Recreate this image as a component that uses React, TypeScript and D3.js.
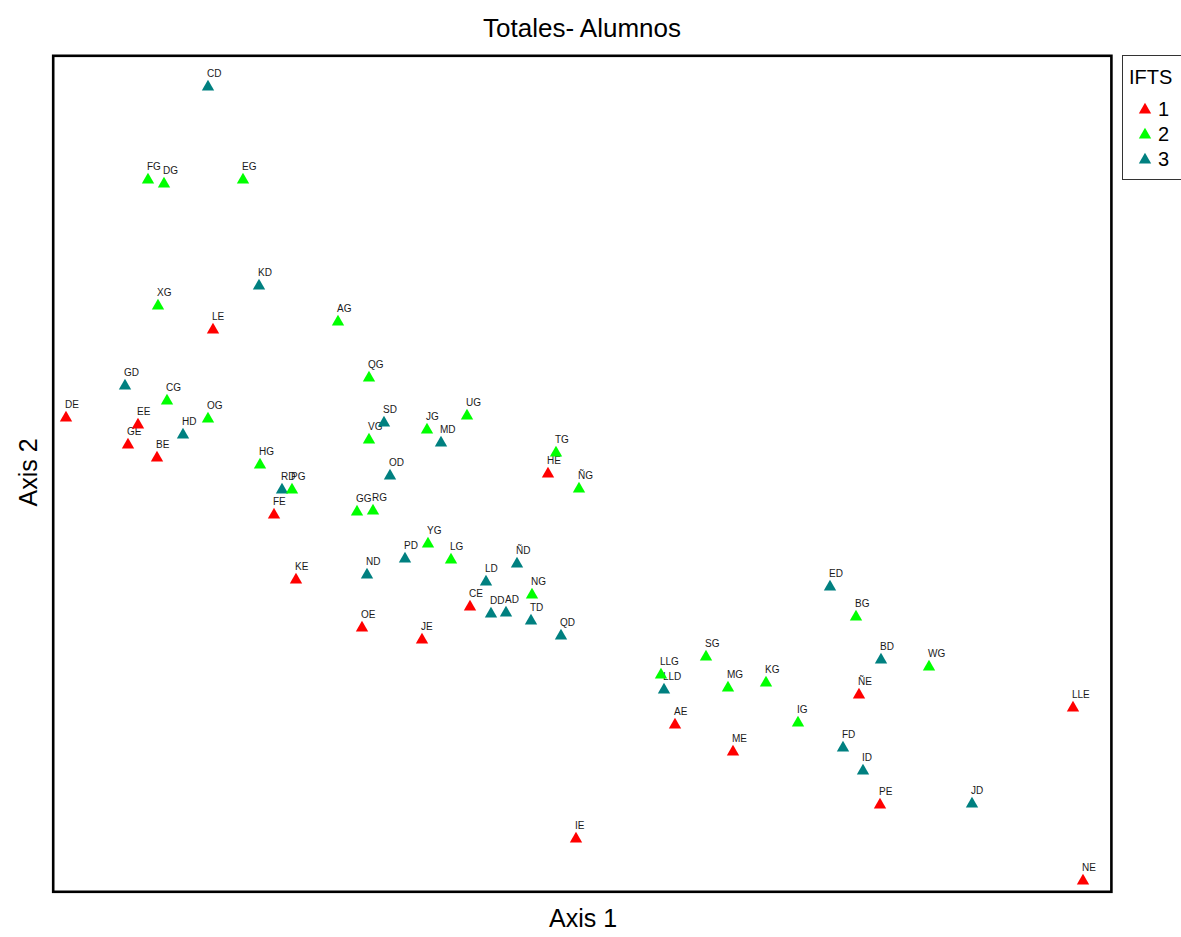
import React from "react";
import * as d3 from "d3";

// Ordination scores (Axis 1, Axis 2) for each student group, coloured by IFTS
const names = [
  "CD", "FG", "DG", "EG", "KD", "XG", "LE", "AG", "QG", "GD", "CG", "DE", "OG", "EE", "SD", "HD",
  "GE", "VG", "JG", "UG", "MD", "BE", "TG", "HG", "HE", "OD", "ÑG", "RD", "PG", "FE", "GG", "RG",
  "YG", "PD", "LG", "ÑD", "ND", "KE", "LD", "NG", "CE", "DD", "AD", "TD", "QD", "OE", "JE", "ED",
  "BG", "SG", "BD", "WG", "LLG", "LLD", "MG", "KG", "ÑE", "LLE", "AE", "IG", "ME", "FD", "ID", "PE",
  "JD", "IE", "NE",
];
const ifts = [
  3, 2, 2, 2, 3, 2, 1, 2, 2, 3, 2, 1, 2, 1, 3, 3,
  1, 2, 2, 2, 3, 1, 2, 2, 1, 3, 2, 3, 2, 1, 2, 2,
  2, 3, 2, 3, 3, 1, 3, 2, 1, 3, 3, 3, 3, 1, 1, 3,
  2, 2, 3, 2, 2, 3, 2, 2, 1, 1, 1, 2, 1, 3, 3, 1,
  3, 1, 1,
];
const axis1 = [
  156, 96, 112, 191, 207, 106, 161, 286, 317, 73, 115, 14, 156, 86, 332, 131,
  76, 317, 375, 415, 389, 105, 504, 208, 496, 338, 527, 230, 240, 222, 305, 321,
  376, 353, 399, 465, 315, 244, 434, 480, 418, 439, 454, 479, 509, 310, 370, 778,
  804, 654, 829, 877, 609, 612, 676, 714, 807, 1021, 623, 746, 681, 791, 811, 828,
  920, 524, 1031,
];
const axis2 = [
  803, 710, 706, 710, 604, 584, 560, 568, 512, 504, 489, 472, 471, 465, 467, 455,
  445, 450, 460, 474, 447, 432, 437, 425, 416, 414, 401, 400, 400, 375, 378, 379,
  346, 331, 330, 326, 315, 310, 308, 295, 283, 276, 277, 269, 254, 262, 250, 303,
  273, 233, 230, 223, 215, 200, 202, 207, 195, 182, 165, 167, 138, 142, 119, 85,
  86, 51, 9,
];
const groups = [1, 2, 3];
const groupColors = ["#ff0000", "#00ff00", "#008080"];

const W = 1181;
const H = 937;
const left = 52;
const right = 1112;
const top = 55;
const bottom = 890;

export default function App() {
  const x = d3.scaleLinear().domain([0, 1060]).range([left, right]);
  const y = d3.scaleLinear().domain([0, 835]).range([bottom, top]);
  const color = d3.scaleOrdinal<number, string>().domain(groups).range(groupColors);
  const tri = d3.symbol().type(d3.symbolTriangle).size(66)() as string;
  const font = "'Liberation Sans', Arial, sans-serif";

  const points = names.map((n, i) => ({ name: n, g: ifts[i], px: x(axis1[i]), py: y(axis2[i]) }));

  return (
    <svg
      width={W}
      height={H}
      style={{ position: "absolute", left: 0, top: 0, background: "#fff" }}
      fontFamily={font}
    >
      <rect x={0} y={0} width={W} height={H} fill="#fff" />
      <text x={582} y={37} textAnchor="middle" fontSize={26} fill="#000">
        Totales- Alumnos
      </text>

      {/* point labels sit underneath the markers */}
      {points.map((p) => (
        <text key={"l" + p.name} x={p.px - 1} y={p.py - 10.5} fontSize={10} fill="#1a1a1a">
          {p.name}
        </text>
      ))}
      {points.map((p) => (
        <path
          key={p.name}
          d={tri}
          transform={`translate(${p.px},${p.py})`}
          fill={color(p.g)}
        />
      ))}

      <rect
        x={53.2}
        y={55.8}
        width={1058.2}
        height={836}
        fill="none"
        stroke="#000"
        strokeWidth={2.6}
      />

      <text x={583} y={927} textAnchor="middle" fontSize={25} fill="#000">
        Axis 1
      </text>
      <text
        transform={`translate(37,${(top + bottom) / 2}) rotate(-90)`}
        textAnchor="middle"
        fontSize={25}
        fill="#000"
      >
        Axis 2
      </text>

      {/* legend */}
      <rect x={1122.5} y={55.5} width={70} height={124} fill="#fff" stroke="#333" strokeWidth={1} />
      <text x={1129} y={84} fontSize={20} fill="#000">
        IFTS
      </text>
      {groups.map((g, i) => (
        <g key={g} transform={`translate(0,${i * 25})`}>
          <path d={tri} transform={`translate(1145,110)`} fill={color(g)} />
          <text x={1158} y={116} fontSize={20} fill="#000">
            {g}
          </text>
        </g>
      ))}
    </svg>
  );
}
